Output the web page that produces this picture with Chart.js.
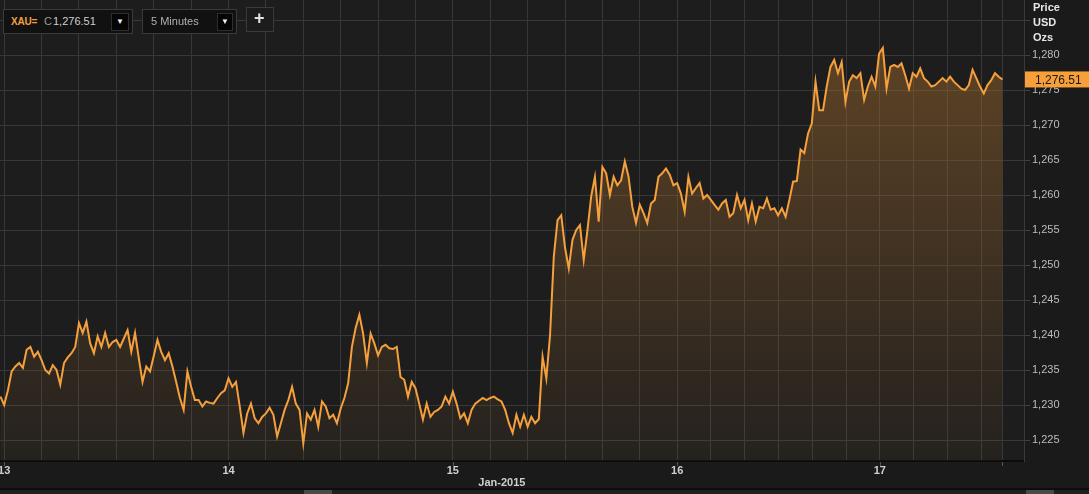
<!DOCTYPE html>
<html>
<head>
<meta charset="utf-8">
<script src="https://cdn.jsdelivr.net/npm/chart.js@4"></script>
<style>
  html, body { margin:0; padding:0; background:#191919; }
  #wrap { position:relative; width:1089px; height:494px; overflow:hidden; font-family:"Liberation Sans", Arial, sans-serif; }
  canvas { position:absolute; left:0; top:0; }
  .box { position:absolute; background:#111; border:1px solid #3a3a3a; box-sizing:border-box; }
  .btn { position:absolute; background:#050505; border:1px solid #2e2e2e; box-sizing:border-box; color:#f0f0f0; font-size:8px; text-align:center; line-height:16px; }
  .lbl { position:absolute; color:#e6e6e6; font-size:11px; font-weight:bold; }
  .handle { position:absolute; background:#4a4a4a; height:4px; top:490px; }
</style>
</head>
<body>
<div id="wrap">
  <canvas id="c" width="1089" height="494"></canvas>
  <div class="box" style="left:3px;top:9px;width:130px;height:25px;">
    <span style="position:absolute;left:7px;top:6px;font-size:10px;font-weight:bold;color:#f0a040;letter-spacing:-0.2px;">XAU=</span>
    <span style="position:absolute;left:40px;top:5px;font-size:11px;color:#9a9a9a;">C</span>
    <span style="position:absolute;left:49px;top:5px;font-size:11px;color:#cfcfcf;">1,276.51</span>
    <div class="btn" style="left:107px;top:3px;width:18px;height:18px;">&#9660;</div>
  </div>
  <div class="box" style="left:142px;top:9px;width:95px;height:25px;">
    <span style="position:absolute;left:8px;top:5px;font-size:11px;color:#b0b0b0;">5 Minutes</span>
    <div class="btn" style="left:74px;top:3px;width:16px;height:18px;">&#9660;</div>
  </div>
  <div class="box" style="left:246px;top:7px;width:28px;height:25px;background:#1c1c1c;">
    <span style="position:absolute;left:7px;top:0px;font-size:18px;font-weight:bold;color:#e0e0e0;">+</span>
  </div>
  <div class="lbl" style="left:1033px;top:1px;">Price</div>
  <div class="lbl" style="left:1033px;top:16px;">USD</div>
  <div class="lbl" style="left:1033px;top:31px;">Ozs</div>
  <div class="handle" style="left:304px;width:28px;"></div>
  <div class="handle" style="left:1026px;width:28px;"></div>
</div>
<script>
// ---------- DATA ----------
const symbol = "XAU=";
const lastPrice = 1276.51;
// 5-minute series, sampled at regular steps along the (trading-time) x axis
const xStart = -0.1;
const xStep = 0.1;
const prices = [
1231.2,1230.0,1232.1,1234.8,1235.5,1236.0,1235.3,1237.9,1238.3,1236.9,
1237.6,1236.4,1235.0,1234.5,1235.7,1235.0,1232.9,1236.0,1236.8,1237.4,
1238.3,1241.7,1240.3,1241.9,1238.8,1237.4,1239.8,1238.3,1240.3,1238.3,
1239.0,1239.3,1238.3,1239.5,1240.7,1237.6,1240.3,1236.7,1233.3,1235.5,
1234.8,1237.0,1239.3,1237.6,1236.4,1237.4,1235.5,1233.3,1231.0,1229.3,
1234.8,1232.6,1230.7,1230.7,1229.8,1230.5,1230.3,1230.2,1231.0,1231.7,
1232.1,1233.8,1232.6,1233.3,1229.8,1226.0,1228.8,1230.2,1228.1,1227.4,
1228.3,1228.8,1229.6,1228.6,1225.5,1227.4,1229.3,1230.7,1232.6,1230.2,
1229.3,1224.5,1228.8,1227.9,1229.3,1226.9,1230.5,1229.8,1228.1,1228.6,
1227.4,1229.5,1231.0,1233.1,1238.3,1241.0,1242.9,1240.2,1236.0,1240.2,
1238.8,1237.1,1238.3,1238.6,1238.1,1238.0,1238.3,1234.0,1233.6,1231.2,
1233.3,1232.4,1230.2,1227.9,1230.2,1228.3,1229.0,1229.3,1229.8,1231.2,
1230.2,1231.9,1230.2,1228.1,1228.8,1227.4,1229.3,1230.2,1230.6,1231.0,
1230.7,1231.0,1231.2,1230.8,1230.5,1229.3,1227.4,1226.0,1228.6,1226.9,
1228.6,1226.9,1228.3,1227.4,1228.0,1236.9,1233.8,1240.0,1251.2,1256.4,
1257.1,1252.5,1249.5,1253.6,1255.0,1255.7,1250.7,1255.0,1259.8,1262.6,
1256.2,1264.0,1263.1,1260.0,1262.6,1261.4,1262.1,1264.8,1262.6,1258.3,
1256.0,1258.6,1257.4,1256.0,1258.8,1259.3,1262.6,1263.1,1263.8,1262.9,
1261.4,1261.7,1260.2,1257.6,1262.6,1260.2,1261.0,1261.7,1259.5,1260.0,
1259.3,1258.6,1257.9,1258.8,1259.3,1256.9,1257.4,1260.0,1258.1,1259.3,
1256.4,1258.8,1256.2,1258.3,1258.1,1259.5,1257.9,1258.1,1257.1,1258.1,
1256.9,1259.3,1261.9,1262.0,1266.5,1266.0,1268.8,1270.2,1276.2,1272.1,
1272.1,1275.5,1278.3,1279.3,1277.4,1279.0,1273.3,1276.2,1277.1,1276.7,
1277.4,1273.6,1275.5,1276.9,1275.5,1280.2,1281.0,1275.2,1278.3,1278.6,
1278.3,1278.8,1277.1,1275.2,1277.4,1276.9,1278.1,1276.7,1276.2,1275.5,
1275.7,1276.2,1276.7,1276.2,1276.9,1276.2,1275.7,1275.2,1275.0,1275.7,
1277.9,1276.7,1275.5,1274.5,1275.7,1276.4,1277.4,1276.9,1276.51
];
// x-axis (trading-time units, one unit per 4h grid slot)
const xMin = -0.112;
const xMax = 27.276;
const gridX = [0,1,2,3,4,5,6,7,8,9,10,11,12,13,14,15,16,17,18,18.9,19.81,20.71,21.61,22.52,23.42,24.33,25.23,26.13];
const dayTicks = [0, 6, 12, 18, 23.42];
const dayLabels = ["13", "14", "15", "16", "17"];
const monthLabel = "Jan-2015";
// y-axis
const yMin = 1222;
const yMax = 1287.86;
const yTicks = [1225,1230,1235,1240,1245,1250,1255,1260,1265,1270,1275,1280,1285];
const yLabelMax = 1280;

// ---------- BUILD ----------
const points = prices.map((p, i) => ({ x: +(xStart + i * xStep).toFixed(3), y: p }));
const dataEnd = points[points.length - 1].x;

const fmt = v => v.toLocaleString('en-US', { maximumFractionDigits: 2 });

const deco = {
  id: 'deco',
  beforeDraw(chart) {
    const { ctx, chartArea: a, width, height } = chart;
    ctx.save();
    ctx.fillStyle = '#1a1a1a';
    ctx.fillRect(0, 0, width, height);
    ctx.fillStyle = '#1d1d1d';
    ctx.fillRect(a.left, a.top, a.right - a.left, a.bottom - a.top);
    ctx.fillStyle = '#0e0e0e';
    ctx.fillRect(0, 488, width, 2);
    ctx.fillStyle = '#202020';
    ctx.fillRect(0, 490, width, 4);
    ctx.restore();
  },
  afterDraw(chart) {
    const { ctx, chartArea: a, width } = chart;
    const xs = chart.scales.x, ys = chart.scales.y;
    ctx.save();
    ctx.strokeStyle = '#555';
    ctx.lineWidth = 1;
    dayTicks.forEach((d) => {
      const px = Math.round(xs.getPixelForValue(d)) + 0.5;
      ctx.beginPath(); ctx.moveTo(px, a.bottom + 1); ctx.lineTo(px, a.bottom + 5); ctx.stroke();
    });
    const ePx = Math.round(xs.getPixelForValue(dataEnd)) + 0.5;
    ctx.beginPath(); ctx.moveTo(ePx, a.bottom + 1); ctx.lineTo(ePx, a.bottom + 5); ctx.stroke();
    ctx.fillStyle = '#cfcfcf';
    ctx.font = 'bold 11px "Liberation Sans", Arial, sans-serif';
    ctx.textAlign = 'center';
    ctx.textBaseline = 'middle';
    dayTicks.forEach((d, i) => {
      ctx.fillText(dayLabels[i], xs.getPixelForValue(d), a.bottom + 10);
    });
    ctx.fillText(monthLabel, xs.getPixelForValue(dayTicks[2]) + 49, a.bottom + 22);
    const py = ys.getPixelForValue(lastPrice);
    ctx.fillStyle = '#f7a03a';
    ctx.fillRect(a.right + 1, py - 8, width - a.right - 1, 16);
    ctx.fillStyle = '#1a1a1a';
    ctx.font = '12px "Liberation Sans", Arial, sans-serif';
    ctx.textAlign = 'left';
    ctx.fillText(lastPrice.toLocaleString('en-US', { minimumFractionDigits: 2 }), a.right + 11, py + 1);
    ctx.restore();
  }
};

new Chart(document.getElementById('c'), {
  type: 'line',
  data: {
    datasets: [{
      label: symbol,
      data: points,
      borderColor: '#f5a03c',
      borderWidth: 2,
      pointRadius: 0,
      tension: 0,
      fill: 'start',
      backgroundColor: (ctx) => {
        const { chart } = ctx;
        const a = chart.chartArea;
        if (!a) return 'rgba(0,0,0,0)';
        const g = chart.ctx.createLinearGradient(0, a.top, 0, a.bottom);
        g.addColorStop(0, 'rgba(160,105,45,0.55)');
        g.addColorStop(0.5, 'rgba(150,100,45,0.32)');
        g.addColorStop(1, 'rgba(130,90,45,0.08)');
        return g;
      }
    }]
  },
  options: {
    responsive: false,
    animation: false,
    devicePixelRatio: 1,
    layout: { padding: 0 },
    plugins: { legend: { display: false }, tooltip: { enabled: false } },
    scales: {
      x: {
        type: 'linear',
        min: xMin,
        max: xMax,
        afterBuildTicks: s => { s.ticks = gridX.concat([dataEnd]).map(v => ({ value: v })); },
        afterFit: s => { s.height = 33; s.paddingLeft = 0; s.paddingRight = 0; },
        ticks: { display: false },
        grid: { color: '#383838', lineWidth: 1, drawTicks: false },
        border: { color: '#0b0b0b', width: 2 }
      },
      y: {
        position: 'right',
        min: yMin,
        max: yMax,
        afterBuildTicks: s => { s.ticks = yTicks.map(v => ({ value: v })); },
        afterFit: s => { s.width = 65; s.paddingTop = 0; s.paddingBottom = 0; },
        ticks: {
          color: '#bdbdbd',
          font: { family: '"Liberation Sans", Arial, sans-serif', size: 11 },
          padding: 2,
          callback: v => (v <= yLabelMax ? fmt(v) : '')
        },
        grid: { color: '#383838', lineWidth: 1, drawTicks: true, tickLength: 6, tickColor: '#404040' },
        border: { color: '#3a3a3a', width: 1 }
      }
    }
  },
  plugins: [deco]
});
</script>
</body>
</html>
